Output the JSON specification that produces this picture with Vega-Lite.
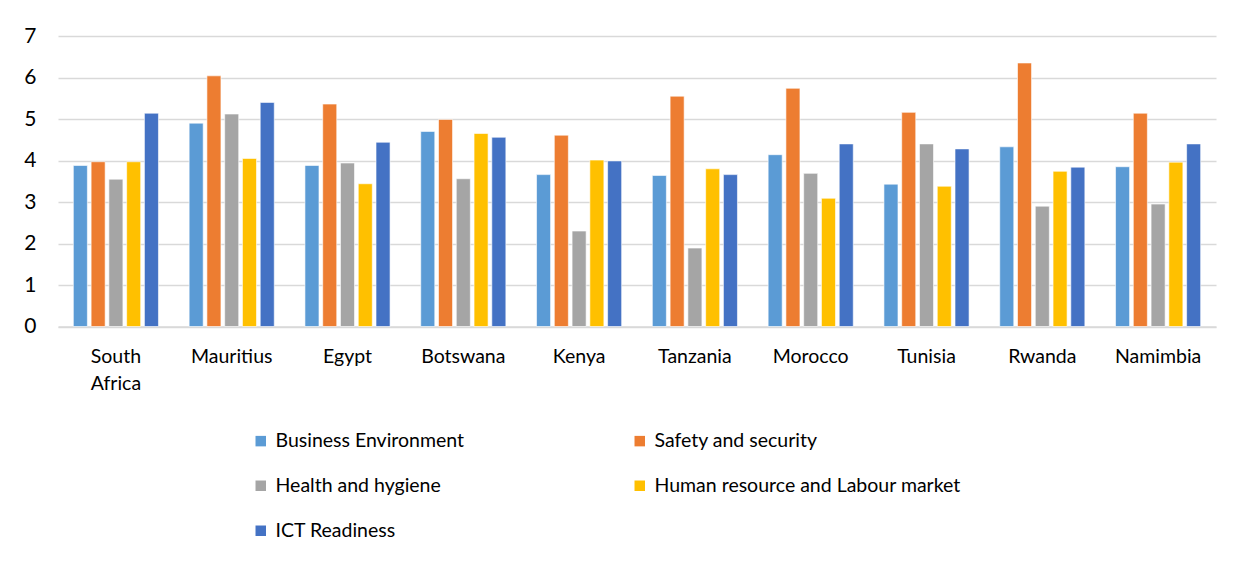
{
  "$schema": "https://vega.github.io/schema/vega-lite/v6.json",
  "autosize": "none",
  "width": 1158,
  "height": 290.5,
  "padding": {"left": 58, "top": 36, "right": 28, "bottom": 236.5},
  "background": "white",
  "data": {
    "values": [
      {"country": "South Africa", "category": "Business Environment", "value": 3.88},
      {"country": "South Africa", "category": "Safety and security", "value": 3.97},
      {"country": "South Africa", "category": "Health and hygiene", "value": 3.55},
      {"country": "South Africa", "category": "Human resource and Labour market", "value": 3.97},
      {"country": "South Africa", "category": "ICT Readiness", "value": 5.14},
      {"country": "Mauritius", "category": "Business Environment", "value": 4.90},
      {"country": "Mauritius", "category": "Safety and security", "value": 6.04},
      {"country": "Mauritius", "category": "Health and hygiene", "value": 5.12},
      {"country": "Mauritius", "category": "Human resource and Labour market", "value": 4.05},
      {"country": "Mauritius", "category": "ICT Readiness", "value": 5.40},
      {"country": "Egypt", "category": "Business Environment", "value": 3.88},
      {"country": "Egypt", "category": "Safety and security", "value": 5.36},
      {"country": "Egypt", "category": "Health and hygiene", "value": 3.94},
      {"country": "Egypt", "category": "Human resource and Labour market", "value": 3.44},
      {"country": "Egypt", "category": "ICT Readiness", "value": 4.44},
      {"country": "Botswana", "category": "Business Environment", "value": 4.70},
      {"country": "Botswana", "category": "Safety and security", "value": 4.99},
      {"country": "Botswana", "category": "Health and hygiene", "value": 3.56},
      {"country": "Botswana", "category": "Human resource and Labour market", "value": 4.65},
      {"country": "Botswana", "category": "ICT Readiness", "value": 4.56},
      {"country": "Kenya", "category": "Business Environment", "value": 3.66},
      {"country": "Kenya", "category": "Safety and security", "value": 4.61},
      {"country": "Kenya", "category": "Health and hygiene", "value": 2.30},
      {"country": "Kenya", "category": "Human resource and Labour market", "value": 4.01},
      {"country": "Kenya", "category": "ICT Readiness", "value": 3.99},
      {"country": "Tanzania", "category": "Business Environment", "value": 3.64},
      {"country": "Tanzania", "category": "Safety and security", "value": 5.55},
      {"country": "Tanzania", "category": "Health and hygiene", "value": 1.89},
      {"country": "Tanzania", "category": "Human resource and Labour market", "value": 3.80},
      {"country": "Tanzania", "category": "ICT Readiness", "value": 3.66},
      {"country": "Morocco", "category": "Business Environment", "value": 4.14},
      {"country": "Morocco", "category": "Safety and security", "value": 5.74},
      {"country": "Morocco", "category": "Health and hygiene", "value": 3.69},
      {"country": "Morocco", "category": "Human resource and Labour market", "value": 3.09},
      {"country": "Morocco", "category": "ICT Readiness", "value": 4.40},
      {"country": "Tunisia", "category": "Business Environment", "value": 3.43},
      {"country": "Tunisia", "category": "Safety and security", "value": 5.16},
      {"country": "Tunisia", "category": "Health and hygiene", "value": 4.40},
      {"country": "Tunisia", "category": "Human resource and Labour market", "value": 3.38},
      {"country": "Tunisia", "category": "ICT Readiness", "value": 4.28},
      {"country": "Rwanda", "category": "Business Environment", "value": 4.33},
      {"country": "Rwanda", "category": "Safety and security", "value": 6.35},
      {"country": "Rwanda", "category": "Health and hygiene", "value": 2.90},
      {"country": "Rwanda", "category": "Human resource and Labour market", "value": 3.74},
      {"country": "Rwanda", "category": "ICT Readiness", "value": 3.84},
      {"country": "Namimbia", "category": "Business Environment", "value": 3.85},
      {"country": "Namimbia", "category": "Safety and security", "value": 5.14},
      {"country": "Namimbia", "category": "Health and hygiene", "value": 2.95},
      {"country": "Namimbia", "category": "Human resource and Labour market", "value": 3.96},
      {"country": "Namimbia", "category": "ICT Readiness", "value": 4.40}
    ]
  },
  "mark": {"type": "bar", "stroke": "white", "strokeWidth": 0.6},
  "encoding": {
    "x": {
      "field": "country",
      "type": "nominal",
      "sort": null,
      "title": null,
      "scale": {"paddingInner": 0.265, "paddingOuter": 0.1325},
      "axis": {
        "labelAngle": 0,
        "labelFont": "Lato",
        "labelFontSize": 19.5,
        "labelColor": "#000000",
        "labelPadding": 21,
        "labelLineHeight": 27,
        "ticks": false,
        "domainColor": "#d9d9d9",
        "domainWidth": 1.5,
        "labelExpr": "datum.label == 'South Africa' ? ['South', 'Africa'] : datum.label"
      }
    },
    "xOffset": {
      "field": "category",
      "type": "nominal",
      "sort": ["Business Environment", "Safety and security", "Health and hygiene", "Human resource and Labour market", "ICT Readiness"],
      "scale": {"paddingInner": 0.21, "paddingOuter": 0}
    },
    "y": {
      "field": "value",
      "type": "quantitative",
      "title": null,
      "scale": {"domain": [0, 7], "nice": false},
      "axis": {
        "values": [0, 1, 2, 3, 4, 5, 6, 7],
        "domain": false,
        "ticks": false,
        "labelFont": "Lato",
        "labelFontSize": 21,
        "labelColor": "#000000",
        "labelPadding": 22,
        "gridColor": "#d9d9d9",
        "gridWidth": 1.5
      }
    },
    "color": {
      "field": "category",
      "type": "nominal",
      "scale": {
        "domain": ["Business Environment", "Safety and security", "Health and hygiene", "Human resource and Labour market", "ICT Readiness"],
        "range": ["#5B9BD5", "#ED7D31", "#A5A5A5", "#FFC000", "#4472C4"]
      },
      "legend": {
        "title": null,
        "orient": "none",
        "direction": "horizontal",
        "legendX": 193,
        "legendY": 395,
        "columns": 2,
        "columnPadding": 165,
        "rowPadding": 24,
        "symbolType": "square",
        "symbolSize": 110,
        "symbolStrokeWidth": 0,
        "labelFont": "Lato",
        "labelFontSize": 19.5,
        "labelColor": "#000000",
        "labelOffset": 5,
        "labelLimit": 400
      }
    }
  },
  "config": {
    "view": {"stroke": null}
  }
}
